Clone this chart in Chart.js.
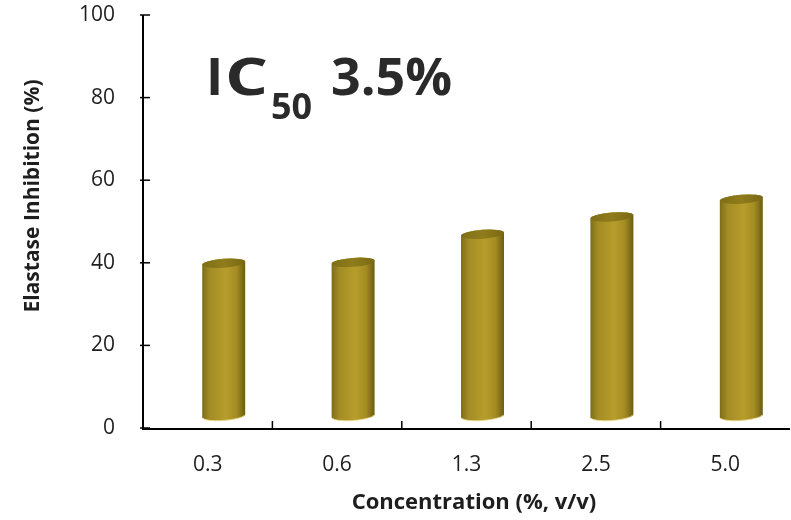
<!DOCTYPE html>
<html>
<head>
<meta charset="utf-8">
<script src="https://cdn.jsdelivr.net/npm/chart.js@4.4.0/dist/chart.umd.min.js"></script>
<style>
  html, body { margin: 0; padding: 0; background: #fff; }
</style>
</head>
<body>
<canvas id="chart" width="791" height="520"></canvas>
<script>
// data
const categories = ['0.3', '0.6', '1.3', '2.5', '5.0'];
const inhibition = [37, 37.2, 44, 48.2, 52.5];
const yTicks = [0, 20, 40, 60, 80, 100];
const yTitle = 'Elastase Inhibition (%)';
const xTitle = 'Concentration (%, v/v)';

const FONT = "'Open Sans', 'Noto Sans', sans-serif";
const INK = '#1e1e1e';

// cylinders drawn over the (invisible) bar elements, shifted like an Excel 3D column
const cylinders = {
    id: 'cylinders',
    afterDatasetsDraw(chart) {
        const ctx = chart.ctx;
        const meta = chart.getDatasetMeta(0);
        const dx = 16, dy = -12, ry = 4.5, rot = -0.075;
        meta.data.forEach(bar => {
            const cx = bar.x + dx;
            const rx = bar.width / 2;
            const top = bar.y + dy;
            const bottom = bar.base + dy;

            ctx.save();
            const grad = ctx.createLinearGradient(cx - rx, 0, cx + rx, 0);
            grad.addColorStop(0, '#7d6d17');
            grad.addColorStop(0.18, '#a38c25');
            grad.addColorStop(0.55, '#b79d2b');
            grad.addColorStop(0.8, '#a48c23');
            grad.addColorStop(1, '#6b5c12');

            ctx.beginPath();
            ctx.ellipse(cx, top, rx, ry, rot, Math.PI, Math.PI * 2, false);
            ctx.ellipse(cx, bottom, rx, ry, rot, 0, Math.PI, false);
            ctx.closePath();
            ctx.fillStyle = grad;
            ctx.fill();

            // light rim at the base
            ctx.beginPath();
            ctx.ellipse(cx, bottom, rx - 0.5, ry, rot, 0.15, Math.PI - 0.15, false);
            ctx.strokeStyle = 'rgba(235, 220, 140, 0.8)';
            ctx.lineWidth = 1;
            ctx.stroke();

            // top cap
            const capGrad = ctx.createLinearGradient(cx - rx, 0, cx + rx, 0);
            capGrad.addColorStop(0, '#7f6e16');
            capGrad.addColorStop(0.5, '#8f7c1c');
            capGrad.addColorStop(1, '#7a6914');
            ctx.beginPath();
            ctx.ellipse(cx, top, rx, ry, rot, 0, Math.PI * 2);
            ctx.fillStyle = capGrad;
            ctx.fill();
            ctx.restore();
        });
    }
};

// axis lines, tick marks and free text
const decor = {
    id: 'decor',
    afterDraw(chart) {
        const ctx = chart.ctx;
        const x = chart.scales.x, y = chart.scales.y;
        const left = chart.chartArea.left, right = chart.chartArea.right;
        const y0 = y.getPixelForValue(0), yTop = y.getPixelForValue(100);

        ctx.save();
        ctx.strokeStyle = '#000';
        ctx.lineWidth = 2;
        ctx.beginPath();
        ctx.moveTo(left, yTop);
        ctx.lineTo(left, y0 + 1);
        ctx.lineTo(right, y0 + 1);
        ctx.stroke();

        ctx.lineWidth = 1.5;
        yTicks.forEach(v => {
            const py = y.getPixelForValue(v);
            ctx.beginPath();
            ctx.moveTo(left - 3, py);
            ctx.lineTo(left + 7, py);
            ctx.stroke();
        });
        for (let i = 0; i < categories.length - 1; i++) {
            const px = (x.getPixelForValue(i) + x.getPixelForValue(i + 1)) / 2;
            ctx.beginPath();
            ctx.moveTo(px, y0);
            ctx.lineTo(px, y0 - 7);
            ctx.stroke();
        }

        ctx.fillStyle = INK;
        ctx.textAlign = 'center';
        ctx.textBaseline = 'middle';
        ctx.font = 'bold 22px ' + FONT;
        ctx.fillText(xTitle, 474, 503);

        ctx.save();
        ctx.translate(33, 196);
        ctx.rotate(-Math.PI / 2);
        ctx.font = 'bold 21px ' + FONT;
        ctx.fillText(yTitle, 0, 0);
        ctx.restore();

        // IC50 label
        ctx.textAlign = 'left';
        ctx.textBaseline = 'alphabetic';
        ctx.fillStyle = '#2a2a2a';
        ctx.font = 'bold 52px ' + FONT;
        ctx.fillText('I', 206, 95);
        ctx.save();
        ctx.translate(225, 95);
        ctx.scale(1.3, 1);
        ctx.fillText('C', 0, 0);
        ctx.restore();
        ctx.font = 'bold 36px ' + FONT;
        ctx.fillText('50', 271, 119);
        ctx.font = 'bold 52px ' + FONT;
        ctx.fillText('3.5%', 331, 95);
        ctx.restore();
    }
};

new Chart(document.getElementById('chart'), {
    type: 'bar',
    data: {
        labels: categories,
        datasets: [{
            data: inhibition,
            backgroundColor: 'rgba(0,0,0,0)',
            borderWidth: 0,
            categoryPercentage: 1,
            barPercentage: 0.333
        }]
    },
    options: {
        responsive: false,
        animation: false,
        events: [],
        layout: { padding: { top: 15, right: 1, left: 0, bottom: 0 } },
        plugins: {
            legend: { display: false },
            tooltip: { enabled: false }
        },
        scales: {
            x: {
                grid: { display: false, drawTicks: false },
                border: { display: false },
                ticks: { color: INK, font: { family: FONT, size: 21 }, padding: 24 },
                afterFit: s => { s.height = 92; s.paddingLeft = 0; s.paddingRight = 0; }
            },
            y: {
                min: 0,
                max: 100,
                grid: { display: false, drawTicks: false },
                border: { display: false },
                ticks: { stepSize: 20, color: INK, font: { family: FONT, size: 21 }, padding: 28 },
                afterFit: s => { s.width = 143; s.paddingTop = 0; s.paddingBottom = 0; }
            }
        }
    },
    plugins: [cylinders, decor]
});
</script>
</body>
</html>
